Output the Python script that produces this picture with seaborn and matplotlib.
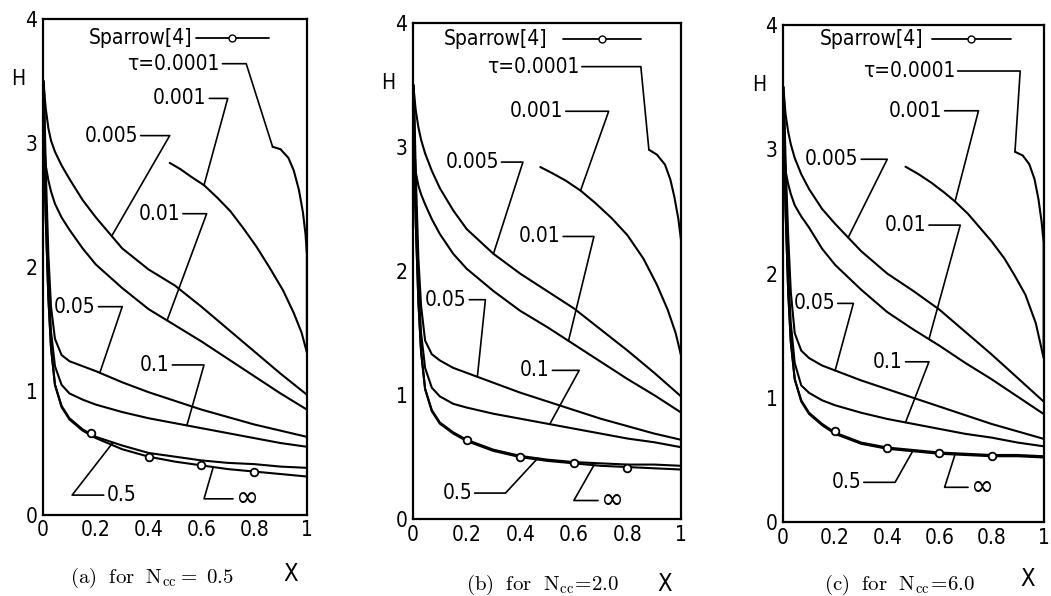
import numpy as np
import matplotlib
matplotlib.use("Agg")
import matplotlib.pyplot as plt
import seaborn as sns

# common x grid for the curves that start at X = 0
x_grid = [0.003, 0.01, 0.02, 0.03, 0.045, 0.07, 0.1, 0.15, 0.2, 0.3, 0.4, 0.5, 0.6, 0.7, 0.8, 0.9, 1.0]

tau_labels = ["τ=0.0001", "0.001", "0.005", "0.01", "0.05", "0.1", "0.5", "∞"]

# (a) Ncc = 0.5
a_x_00001 = [0.87, 0.9, 0.93, 0.95, 0.97, 0.985, 0.995, 1.0, 1.0]
a_h_00001 = [2.97, 2.95, 2.88, 2.78, 2.62, 2.44, 2.26, 2.10, 1.35]
a_x_0001 = [0.48, 0.52, 0.56, 0.61, 0.66, 0.71, 0.76, 0.81, 0.86, 0.91, 0.95, 0.98, 1.0]
a_h_0001 = [2.84, 2.79, 2.73, 2.66, 2.56, 2.45, 2.31, 2.16, 1.99, 1.81, 1.63, 1.47, 1.31]
a_h_0005 = [3.45, 3.28, 3.12, 3.02, 2.93, 2.82, 2.71, 2.54, 2.40, 2.15, 1.98, 1.85, 1.68, 1.50, 1.32, 1.14, 0.97]
a_h_001 = [3.05, 2.82, 2.70, 2.61, 2.51, 2.40, 2.30, 2.15, 2.02, 1.83, 1.66, 1.53, 1.40, 1.26, 1.12, 0.98, 0.85]
a_h_005 = [3.50, 2.80, 2.10, 1.68, 1.42, 1.29, 1.24, 1.20, 1.16, 1.07, 0.99, 0.92, 0.85, 0.79, 0.73, 0.68, 0.63]
a_h_01 = [3.40, 2.60, 1.90, 1.48, 1.20, 1.05, 0.98, 0.93, 0.89, 0.83, 0.78, 0.74, 0.70, 0.66, 0.62, 0.58, 0.55]
a_h_05 = [3.00, 2.40, 1.75, 1.35, 1.05, 0.88, 0.78, 0.69, 0.63, 0.56, 0.50, 0.47, 0.44, 0.42, 0.41, 0.39, 0.38]
a_h_inf = [3.00, 2.40, 1.75, 1.35, 1.05, 0.87, 0.77, 0.68, 0.62, 0.53, 0.47, 0.43, 0.40, 0.37, 0.35, 0.33, 0.31]
a_sp_x = [0.18, 0.4, 0.6, 0.8]
a_sp_h = [0.66, 0.47, 0.40, 0.35]

# (b) Ncc = 2.0
b_x_00001 = [0.88, 0.91, 0.94, 0.96, 0.975, 0.99, 1.0, 1.0]
b_h_00001 = [2.98, 2.94, 2.86, 2.74, 2.60, 2.42, 2.25, 1.35]
b_x_0001 = [0.475, 0.52, 0.57, 0.625, 0.68, 0.74, 0.8, 0.86, 0.91, 0.95, 0.98, 1.0]
b_h_0001 = [2.84, 2.79, 2.73, 2.65, 2.55, 2.43, 2.29, 2.10, 1.89, 1.69, 1.50, 1.32]
b_h_0005 = [3.45, 3.30, 3.16, 3.06, 2.95, 2.81, 2.67, 2.49, 2.34, 2.14, 1.98, 1.84, 1.70, 1.53, 1.36, 1.18, 0.99]
b_h_001 = [3.05, 2.80, 2.69, 2.62, 2.54, 2.42, 2.30, 2.14, 2.02, 1.84, 1.68, 1.55, 1.41, 1.27, 1.13, 1.00, 0.86]
b_h_005 = [3.50, 2.80, 2.10, 1.72, 1.44, 1.33, 1.28, 1.22, 1.18, 1.10, 1.02, 0.95, 0.88, 0.81, 0.75, 0.69, 0.64]
b_h_01 = [3.40, 2.60, 1.90, 1.50, 1.22, 1.06, 0.99, 0.93, 0.90, 0.85, 0.81, 0.77, 0.73, 0.69, 0.65, 0.62, 0.58]
b_h_05 = [3.00, 2.40, 1.75, 1.35, 1.05, 0.88, 0.78, 0.70, 0.64, 0.56, 0.51, 0.48, 0.46, 0.45, 0.44, 0.44, 0.43]
b_h_inf = [3.00, 2.40, 1.75, 1.35, 1.05, 0.87, 0.77, 0.69, 0.63, 0.55, 0.50, 0.47, 0.45, 0.43, 0.42, 0.41, 0.40]
b_sp_x = [0.2, 0.4, 0.6, 0.8]
b_sp_h = [0.64, 0.50, 0.45, 0.41]

# (c) Ncc = 6.0
c_x_00001 = [0.89, 0.92, 0.945, 0.965, 0.98, 0.992, 1.0, 1.0]
c_h_00001 = [2.98, 2.95, 2.88, 2.76, 2.60, 2.42, 2.25, 1.35]
c_x_0001 = [0.47, 0.52, 0.57, 0.62, 0.66, 0.71, 0.755, 0.8, 0.85, 0.89, 0.93, 0.97, 1.0]
c_h_0001 = [2.86, 2.80, 2.73, 2.65, 2.58, 2.48, 2.37, 2.26, 2.12, 1.98, 1.83, 1.60, 1.32]
c_h_0005 = [3.45, 3.28, 3.14, 3.04, 2.93, 2.80, 2.68, 2.52, 2.40, 2.18, 2.00, 1.86, 1.71, 1.53, 1.35, 1.16, 0.97]
c_h_001 = [3.05, 2.82, 2.72, 2.64, 2.55, 2.46, 2.37, 2.20, 2.07, 1.87, 1.69, 1.55, 1.42, 1.28, 1.15, 1.01, 0.87]
c_h_005 = [3.50, 2.90, 2.30, 1.85, 1.52, 1.38, 1.32, 1.26, 1.22, 1.14, 1.07, 1.00, 0.93, 0.86, 0.79, 0.73, 0.67]
c_h_01 = [3.40, 2.70, 2.00, 1.60, 1.28, 1.10, 1.04, 0.98, 0.94, 0.88, 0.83, 0.79, 0.75, 0.71, 0.68, 0.64, 0.61]
c_h_05 = [3.10, 2.50, 1.85, 1.45, 1.15, 0.98, 0.88, 0.79, 0.72, 0.64, 0.60, 0.58, 0.56, 0.55, 0.54, 0.54, 0.53]
c_h_inf = [3.10, 2.50, 1.85, 1.45, 1.15, 0.97, 0.87, 0.78, 0.71, 0.63, 0.59, 0.57, 0.55, 0.54, 0.53, 0.53, 0.52]
c_sp_x = [0.2, 0.4, 0.6, 0.8]
c_sp_h = [0.73, 0.60, 0.56, 0.53]

captions = [r"$\mathrm{(a)\ \ for\ \ N_{cc}=\ 0.5}$",
            r"$\mathrm{(b)\ \ for\ \ N_{cc}\!=\!2.0}$",
            r"$\mathrm{(c)\ \ for\ \ N_{cc}\!=\!6.0}$"]

sns.set_style("white")
plt.rcParams["font.family"] = ["DejaVu Sans"]
plt.rcParams["font.stretch"] = "condensed"
plt.rcParams["mathtext.fontset"] = "cm"
for k in ["text.color", "axes.labelcolor", "xtick.color", "ytick.color", "axes.edgecolor"]:
    plt.rcParams[k] = "black"

panels = [
    dict(curves=[(a_x_00001, a_h_00001), (a_x_0001, a_h_0001), (x_grid, a_h_0005), (x_grid, a_h_001),
                 (x_grid, a_h_005), (x_grid, a_h_01), (x_grid, a_h_05), (x_grid, a_h_inf)],
         sp=(a_sp_x, a_sp_h), rect=[0.041, 0.136, 0.251, 0.832],
         # text x, text y, corner x, target x, text side
         leaders=[(0.67, 3.64, 0.77, 0.87, "l"), (0.62, 3.36, 0.70, 0.61, "l"), (0.36, 3.06, 0.48, 0.26, "l"),
                  (0.52, 2.43, 0.62, 0.47, "l"), (0.20, 1.68, 0.30, 0.215, "l"), (0.48, 1.21, 0.61, 0.545, "l"),
                  (0.24, 0.16, 0.11, 0.265, "r"), (0.73, 0.13, 0.61, 0.645, "r")],
         sparrow=(0.565, 3.85, 0.58, 0.855), xlab=(0.94, -0.095), cap=(0.145, 0.03)),
    dict(curves=[(b_x_00001, b_h_00001), (b_x_0001, b_h_0001), (x_grid, b_h_0005), (x_grid, b_h_001),
                 (x_grid, b_h_005), (x_grid, b_h_01), (x_grid, b_h_05), (x_grid, b_h_inf)],
         sp=(b_sp_x, b_sp_h), rect=[0.393, 0.129, 0.255, 0.832],
         leaders=[(0.62, 3.65, 0.85, 0.88, "l"), (0.56, 3.29, 0.73, 0.625, "l"), (0.32, 2.88, 0.41, 0.30, "l"),
                  (0.55, 2.28, 0.675, 0.58, "l"), (0.20, 1.77, 0.27, 0.24, "l"), (0.51, 1.20, 0.62, 0.51, "l"),
                  (0.22, 0.21, 0.345, 0.465, "l"), (0.70, 0.15, 0.60, 0.675, "r")],
         sparrow=(0.50, 3.87, 0.56, 0.85), xlab=(0.94, -0.107), cap=(0.516, 0.018)),
    dict(curves=[(c_x_00001, c_h_00001), (c_x_0001, c_h_0001), (x_grid, c_h_0005), (x_grid, c_h_001),
                 (x_grid, c_h_005), (x_grid, c_h_01), (x_grid, c_h_05), (x_grid, c_h_inf)],
         sp=(c_sp_x, c_sp_h), rect=[0.745, 0.124, 0.248, 0.834],
         leaders=[(0.66, 3.63, 0.91, 0.89, "l"), (0.61, 3.31, 0.75, 0.66, "l"), (0.29, 2.92, 0.40, 0.25, "l"),
                  (0.55, 2.39, 0.68, 0.56, "l"), (0.20, 1.76, 0.27, 0.20, "l"), (0.46, 1.29, 0.56, 0.47, "l"),
                  (0.30, 0.32, 0.43, 0.50, "l"), (0.72, 0.28, 0.62, 0.66, "r")],
         sparrow=(0.54, 3.89, 0.57, 0.875), xlab=(0.94, -0.09), cap=(0.856, 0.018)),
]

fig = plt.figure(figsize=(10.51, 5.96), dpi=100)

for p, cap in zip(panels, captions):
    ax = fig.add_axes(p["rect"])
    for xs, hs in p["curves"]:
        sns.lineplot(x=xs, y=hs, ax=ax, color="black", linewidth=1.5,
                     estimator=None, sort=False, legend=False)
    ax.plot(p["sp"][0], p["sp"][1], ls="none", marker="o", ms=5.5,
            mfc="white", mec="black", mew=1.3)

    # labels with leader lines
    for (tx, ty, cx, px, side), lab, (xs, hs) in zip(p["leaders"], tau_labels, p["curves"]):
        py = np.interp(px, xs, hs)
        fs = 22 if lab == "∞" else 15
        if side == "l":
            ax.text(tx, ty, lab, ha="right", va="center", fontsize=fs)
        else:
            ax.text(tx, ty, lab, ha="left", va="center", fontsize=fs)
        ax.plot([tx + (0.01 if side == "l" else -0.01), cx, px], [ty, ty, py],
                color="black", lw=1.2)

    sx, sy, l0, l1 = p["sparrow"]
    ax.text(sx, sy, "Sparrow[4]", ha="right", va="center", fontsize=15)
    ax.plot([l0, (l0 + l1) / 2, l1], [sy, sy, sy], color="black", lw=1.3,
            marker="o", markevery=[1], ms=5, mfc="white", mec="black")

    ax.set_xlim(0, 1)
    ax.set_ylim(0, 4)
    ax.set_xticks([0, 0.2, 0.4, 0.6, 0.8, 1.0])
    ax.set_xticklabels(["0", "0.2", "0.4", "0.6", "0.8", "1"])
    ax.set_yticks([0, 1, 2, 3, 4])
    ax.set_yticks([0.5, 1.5, 2.5, 3.5], minor=True)
    ax.tick_params(direction="in", length=6, width=1.3, labelsize=15, pad=4)
    ax.tick_params(which="minor", direction="in", length=4, width=1.2)
    for s in ax.spines.values():
        s.set_linewidth(1.6)
    ax.set_xlabel("")
    ax.set_ylabel("")
    ax.text(-0.12, 3.52, "H", transform=ax.get_yaxis_transform(), fontsize=15, va="center")
    ax.text(p["xlab"][0], p["xlab"][1], "X", transform=ax.transAxes, fontsize=17, va="top", ha="center")
    fig.text(p["cap"][0], p["cap"][1], cap, ha="center", va="center", fontsize=15)

fig.savefig("out.png", dpi=100)
